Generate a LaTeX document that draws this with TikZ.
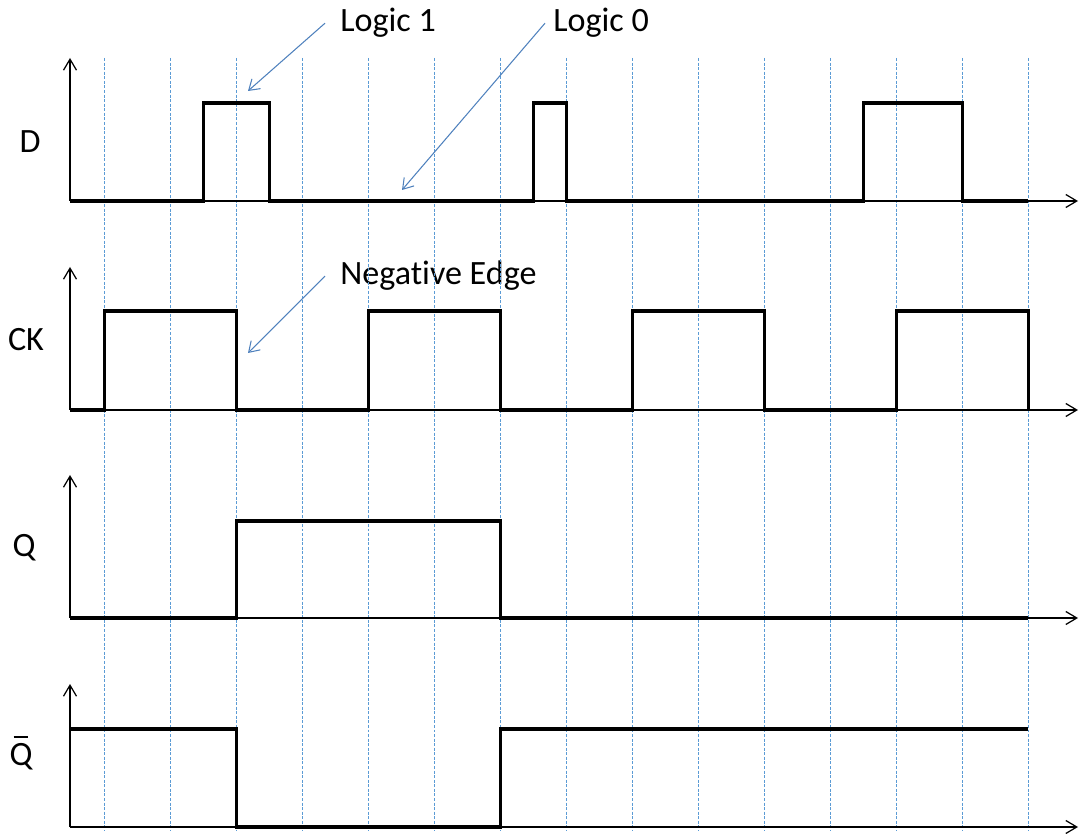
\documentclass[tikz,border=0pt]{standalone}
\usepackage{fontspec}
\setmainfont{Carlito}[RawFeature={-liga}]
\usetikzlibrary{arrows.meta}
\definecolor{gridblue}{RGB}{91, 155, 213}
\definecolor{noteblue}{RGB}{79, 129, 189}

\begin{document}
\begin{tikzpicture}[
    x=0.02cm, y=-0.02cm,
    axis/.style={-{Straight Barb[length=2.2mm, width=2.6mm]}, line width=0.7pt},
    sig/.style={line width=2pt, line join=miter},
    grid/.style={gridblue, line width=0.6pt, dash pattern=on 1.7pt off 0.9pt},
    note/.style={-{Straight Barb[length=2mm, width=2.6mm]}, noteblue, line width=0.6pt},
    lbl/.style={font=\fontsize{19.4}{23}\selectfont, inner sep=0pt, anchor=base}
]
    \useasboundingbox (0,0) rectangle (1079,834);

    \node[lbl] (d) at (30,153) {D};
    \node[lbl] (ck) at (26,351) {CK};
    \node[lbl] (q) at (24,557) {Q};
    \node[lbl] (qb) at (21,765) {\ooalign{Q\cr\hidewidth\rule[0.8em]{0.44em}{0.06em}\hidewidth\cr}};

    \node[lbl, anchor=base west] (lg1) at (340,32) {Logic 1};
    \node[lbl, anchor=base west] (lg0) at (553,32) {Logic 0};
    \node[lbl, anchor=base west] (neg) at (340,285) {Negative Edge};

    \foreach \k in {0,...,14}
        \draw[grid] (104.3+66*\k,58) -- (104.3+66*\k,831);

    \foreach \b in {201,410,618,827} {
        \draw[axis] (70,\b) -- (70,\b-143);
        \draw[axis] (70,\b) -- (1078,\b);
    }

    \draw[sig] (70,201) -- (203.3,201) -- (203.3,103) -- (269.3,103) -- (269.3,201)
        -- (533.3,201) -- (533.3,103) -- (566.3,103) -- (566.3,201)
        -- (863.3,201) -- (863.3,103) -- (962.3,103) -- (962.3,201) -- (1028.3,201);
    \draw[sig] (70,410) -- (104.3,410) -- (104.3,311) -- (236.3,311) -- (236.3,410)
        -- (368.3,410) -- (368.3,311) -- (500.3,311) -- (500.3,410)
        -- (632.3,410) -- (632.3,311) -- (764.3,311) -- (764.3,410)
        -- (896.3,410) -- (896.3,311) -- (1028.3,311) -- (1028.3,410);
    \draw[sig] (70,618) -- (236.3,618) -- (236.3,521) -- (500.3,521) -- (500.3,618) -- (1028.3,618);
    \draw[sig] (70,729) -- (236.3,729) -- (236.3,827) -- (500.3,827) -- (500.3,729) -- (1028.3,729);

    \coordinate (p1) at (248,91);
    \coordinate (p0) at (402,190);
    \coordinate (pn) at (248,353);

    \draw[note] ([xshift=-0.3cm]lg1.west) -- (p1);
    \draw[note] ([xshift=-0.16cm]lg0.west) -- (p0);
    \draw[note] ([xshift=-0.3cm]neg.west) -- (pn);
\end{tikzpicture}
\end{document}
